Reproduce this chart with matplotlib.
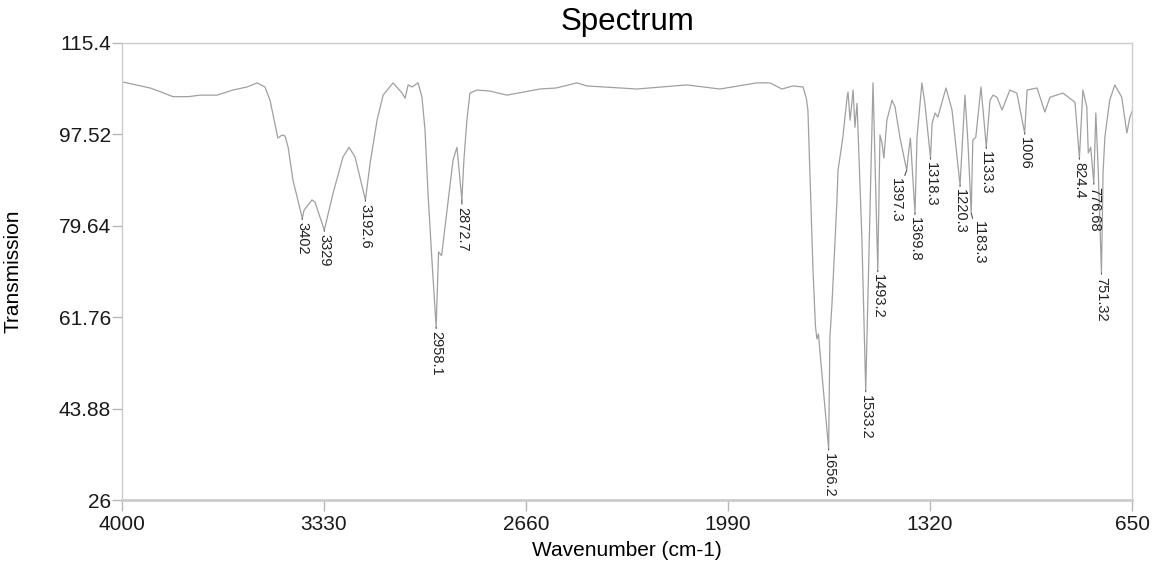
import numpy as np
import matplotlib
matplotlib.use("Agg")
import matplotlib.pyplot as plt

plt.rcParams['font.family'] = ['Liberation Sans', 'DejaVu Sans']

# ---- data ----
wavenumber = [
    4000, 3907, 3874, 3831, 3781, 3741, 3685, 3632, 3585, 3552, 3526, 3509, 3493,
    3483, 3469, 3459, 3449, 3433, 3402, 3396, 3370, 3360, 3329, 3300, 3267, 3247,
    3227, 3192.6, 3177, 3154, 3134, 3101, 3071, 3061, 3051, 3038, 3018, 3005, 2995,
    2985, 2972, 2958.1, 2950, 2940, 2922, 2902, 2889, 2882, 2872.7, 2866, 2856,
    2846, 2823, 2780, 2723, 2614, 2560, 2491, 2458, 2292, 2126, 2017, 1894, 1851,
    1811, 1775, 1741, 1730, 1725, 1708, 1700, 1695, 1690, 1685, 1656.2, 1652, 1645,
    1629, 1625, 1609, 1595, 1592, 1585, 1575, 1569, 1562, 1546, 1533.2, 1509,
    1493.2, 1486, 1479, 1473, 1463, 1446, 1436, 1420, 1397.3, 1390, 1385, 1369.8,
    1363, 1347, 1337, 1318.3, 1313, 1303, 1294, 1267, 1247, 1220.3, 1204, 1194,
    1183.3, 1178, 1168, 1151, 1141, 1133.3, 1121, 1111, 1098, 1081, 1055, 1032,
    1006, 998, 965, 939, 922, 879, 839, 824.4, 813, 800, 795, 787, 776.68, 770,
    762, 751.32, 746, 740, 724, 707, 684, 667, 657, 650,
]
transmission = [
    107.8, 106.6, 105.9, 104.9, 104.9, 105.2, 105.2, 106.2, 106.8, 107.6, 106.8, 104.2, 99.7,
    96.8, 97.4, 97.2, 95.0, 88.6, 81.1, 82.7, 84.7, 84.3, 78.8, 86.0, 93.1, 95.0,
    93.1, 84.7, 91.9, 100.3, 105.2, 107.6, 105.6, 104.6, 107.2, 106.8, 107.6, 104.8, 98.4,
    86.0, 72.9, 59.8, 74.5, 73.8, 82.7, 92.5, 95.0, 90.5, 84.7, 92.5, 100.3,
    105.6, 106.2, 106.0, 105.2, 106.4, 106.6, 107.6, 107.0, 106.4, 107.2, 106.4, 107.6, 107.6,
    106.4, 107.0, 106.8, 104.5, 102.3, 70.9, 60.0, 57.5, 58.5, 55.0, 36.0, 57.8, 64.5,
    84.1, 90.5, 97.0, 104.8, 105.8, 100.3, 106.2, 98.9, 103.6, 77.4, 47.4, 107.6,
    70.9, 97.4, 95.8, 92.9, 100.3, 104.2, 102.9, 97.0, 90.5, 94.5, 96.8, 82.1,
    97.0, 107.6, 103.6, 92.9, 99.7, 101.7, 100.9, 106.6, 102.3, 87.6, 105.2, 95.8,
    82.1, 96.4, 97.0, 106.8, 100.3, 95.0, 104.2, 105.2, 104.8, 102.3, 106.2, 105.6,
    97.8, 106.2, 106.6, 101.9, 104.8, 105.6, 103.8, 92.9, 106.2, 102.9, 93.9, 95.0, 88.0, 101.7,
    90.5, 70.4, 90.0, 97.0, 104.2, 107.2, 104.8, 97.8, 100.9, 102.0,
]

peak_positions = [3402, 3329, 3192.6, 2958.1, 2872.7, 1656.2, 1533.2, 1493.2,
                  1397.3, 1369.8, 1318.3, 1220.3, 1183.3, 1133.3, 1006, 824.4,
                  776.68, 751.32]
peak_labels = ["3402", "3329", "3192.6", "2958.1", "2872.7", "1656.2", "1533.2",
               "1493.2", "1397.3", "1369.8", "1318.3", "1220.3", "1183.3", "1133.3",
               "1006", "824.4", "776.68", "751.32"]

x_ticks = [4000, 3330, 2660, 1990, 1320, 650]
y_ticks = [26, 43.88, 61.76, 79.64, 97.52, 115.4]

# label placement tweaks (pixels)
label_dx = {"1397.3": -11, "1183.3": 8}
label_dy = {"2872.7": -7, "1397.3": -8, "1183.3": -8}

# ---- figure ----
W, H = 1156, 563
fig = plt.figure(figsize=(W / 100, H / 100), dpi=100)
L, R, T, B = 122, 1132, 43, 500
ax = fig.add_axes([L / W, 1 - B / H, (R - L) / W, (B - T) / H])

line_color = "#a0a0a0"
ax.plot(wavenumber, transmission, color=line_color, lw=0.9)

ax.set_xlim(4000, 650)
ax.set_ylim(26, 115.4)
ax.set_xticks(x_ticks)
ax.set_xticklabels([str(t) for t in x_ticks])
ax.set_yticks(y_ticks)
ax.set_yticklabels([f"{t:g}" for t in y_ticks])

for s in ax.spines.values():
    s.set_color("#cccccc")
    s.set_linewidth(1.0)
ax.spines['bottom'].set_linewidth(2.0)
ax.tick_params(axis='both', colors="#b8b8b8", width=1, labelsize=15,
               labelcolor="#1a1a1a")
ax.tick_params(axis='y', length=7, pad=1)
ax.tick_params(axis='x', length=8, pad=3)

ax.set_title("Spectrum", fontsize=22.5, pad=9.4)
ax.set_xlabel("Wavenumber (cm-1)", fontsize=15)
ax.xaxis.set_label_coords(0.5, -(541 - B) / (B - T))
ax.xaxis.label.set_va('top')
ax.set_ylabel("Transmission", fontsize=15)
ax.yaxis.set_label_coords(-(L - 23) / (R - L), 0.5)

wn_arr = np.array(wavenumber)[::-1]
tr_arr = np.array(transmission)[::-1]
for pos, lab in zip(peak_positions, peak_labels):
    yv = float(np.interp(pos, wn_arr, tr_arr))
    dx = label_dx.get(lab, 0)
    dy = label_dy.get(lab, -4)
    ax.annotate(lab, xy=(pos, yv), xytext=(dx, dy), textcoords='offset pixels',
                rotation=270, ha='center', va='top', fontsize=10.5, color="#222222",
                arrowprops=dict(arrowstyle='-', color="#555555", lw=0.8,
                                shrinkA=0, shrinkB=0))

fig.savefig("out.png", dpi=100)
